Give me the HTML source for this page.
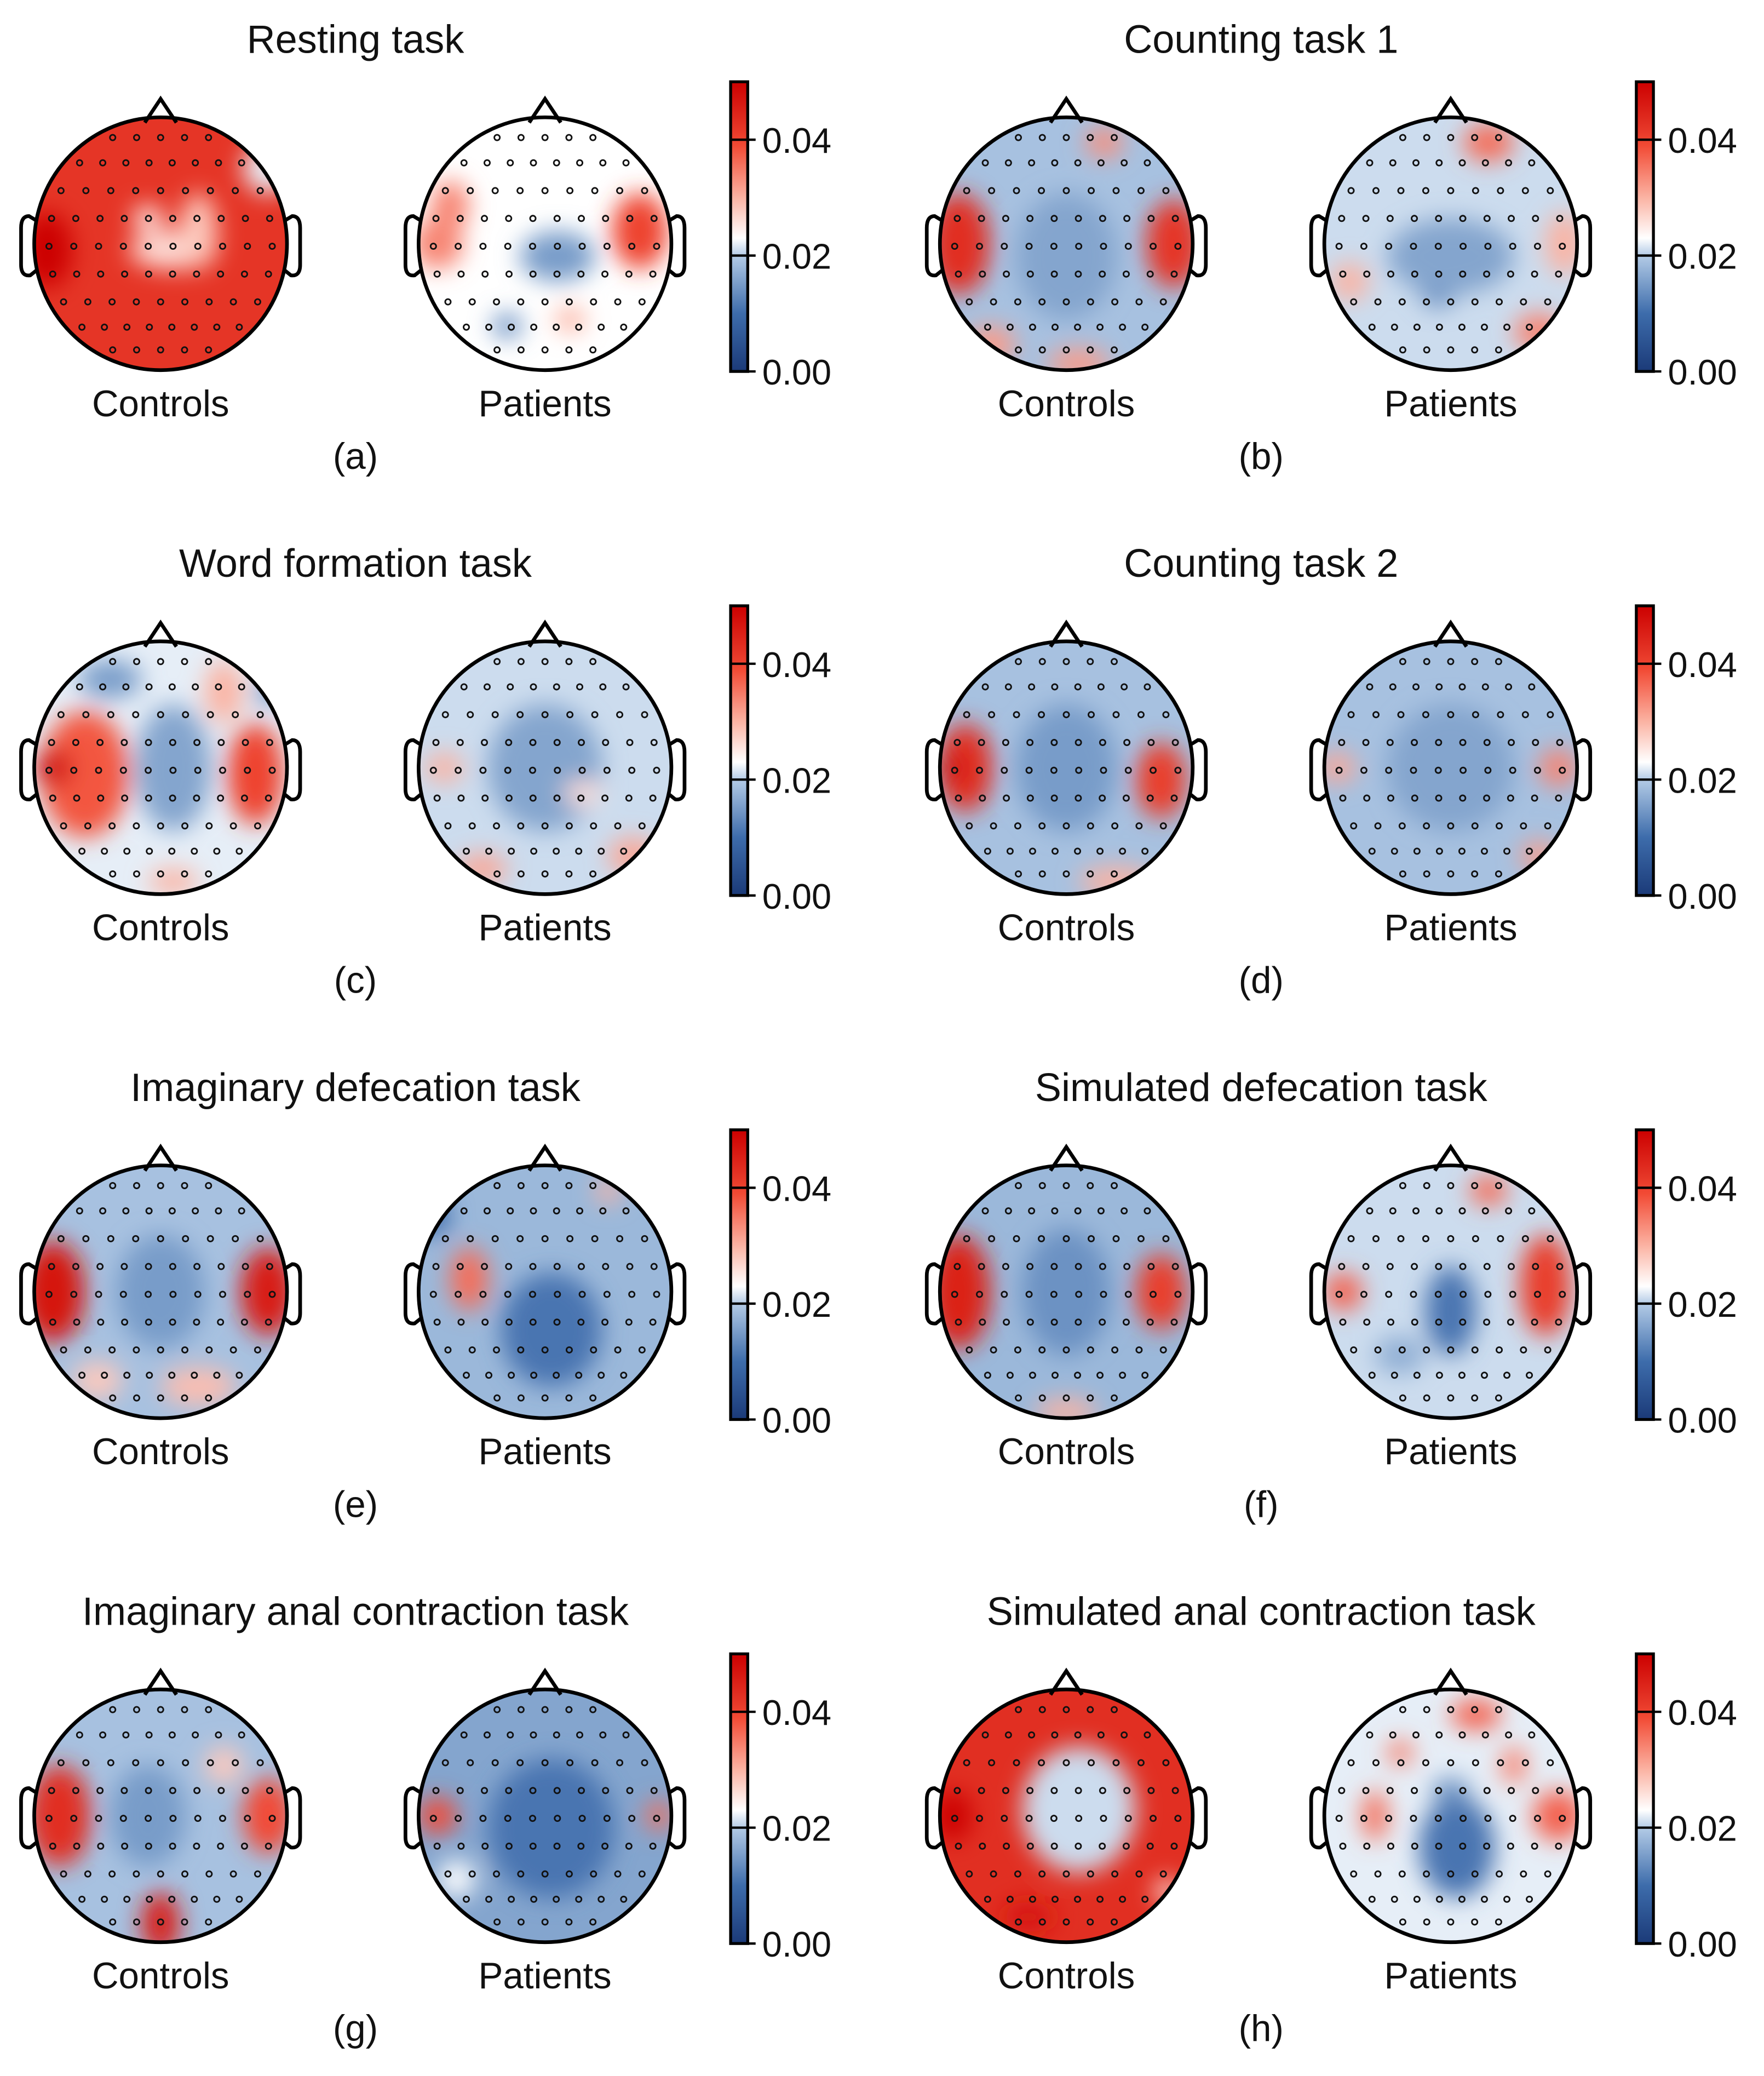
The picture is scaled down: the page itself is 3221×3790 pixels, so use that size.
<!DOCTYPE html>
<html><head><meta charset="utf-8"><style>
html,body{margin:0;padding:0;background:#fff;}
svg{display:block;font-family:"Liberation Sans",sans-serif;}
</style></head><body>
<svg id="fig" xmlns="http://www.w3.org/2000/svg" width="3221" height="3790" viewBox="0 0 1340 1576.5">
<defs>
<filter id="blur" x="-50%" y="-50%" width="200%" height="200%"><feGaussianBlur stdDeviation="9"/></filter>
</defs>
</svg>
<script>
const panelTitles=["Resting task","Counting task 1","Word formation task","Counting task 2","Imaginary defecation task","Simulated defecation task","Imaginary anal contraction task","Simulated anal contraction task"];
const panelLetters=["(a)","(b)","(c)","(d)","(e)","(f)","(g)","(h)"];
const groupLabels=["Controls","Patients"];
const cbTicks=[0.00,0.02,0.04];
const vMin=0, vMax=0.05;
const baseValues=[[0.042,0.023],[0.019,0.021],[0.022,0.021],[0.019,0.019],[0.019,0.018],[0.018,0.021],[0.019,0.016],[0.043,0.022]];
const blobs=[
 [[[-0.9,0.05,0.2,0.3,0.05],[0.1,0.05,0.35,0.15,0.026],[-0.1,-0.2,0.12,0.1,0.024],[0.85,-0.6,0.2,0.2,0.022],[0.3,-0.1,0.15,0.3,0.028]],
  [[-0.75,-0.3,0.15,0.2,0.034],[-0.85,0,0.2,0.2,0.034],[0.75,-0.1,0.22,0.3,0.04],[0.1,0.1,0.3,0.2,0.015],[-0.3,0.65,0.12,0.1,0.014],[0.2,0.6,0.12,0.1,0.03]]],
 [[[-0.85,0,0.25,0.4,0.043],[0.85,0,0.22,0.35,0.042],[0.3,-0.8,0.15,0.12,0.033],[-0.6,0.8,0.2,0.15,0.032],[0.1,0.95,0.25,0.12,0.032],[0,0.1,0.4,0.5,0.016]],
  [[0.3,-0.8,0.2,0.15,0.036],[-0.8,0.3,0.15,0.15,0.03],[0.9,0,0.15,0.25,0.03],[-0.1,0,0.15,0.12,0.013],[-0.1,0.35,0.15,0.15,0.013],[0.7,0.7,0.2,0.15,0.034],[0,0.1,0.5,0.3,0.016]]],
 [[[-0.6,0.05,0.35,0.5,0.038],[-0.85,0,0.15,0.15,0.048],[0.75,0.05,0.22,0.4,0.04],[0.5,-0.6,0.15,0.25,0.03],[0.1,0.9,0.2,0.1,0.03],[-0.4,-0.7,0.25,0.15,0.015],[0.85,-0.6,0.1,0.1,0.013],[0.1,0,0.3,0.5,0.016]],
  [[-0.8,0,0.15,0.12,0.03],[-0.5,0.8,0.2,0.12,0.031],[0.7,0.7,0.2,0.15,0.031],[0,0,0.45,0.5,0.016],[0.3,0.2,0.15,0.1,0.026]]],
 [[[-0.8,0,0.22,0.35,0.043],[-0.9,0,0.1,0.1,0.05],[0.75,0.1,0.2,0.3,0.041],[0.4,0.9,0.3,0.12,0.03],[0,0,0.4,0.5,0.015]],
  [[-0.9,0,0.15,0.12,0.031],[0.85,0,0.15,0.15,0.034],[0,0.1,0.15,0.2,0.012],[0.7,0.7,0.15,0.12,0.032],[0,0,0.5,0.5,0.016]]],
 [[[-0.85,0,0.25,0.4,0.047],[0.85,0,0.22,0.35,0.046],[0.3,0.75,0.3,0.15,0.029],[-0.5,0.7,0.2,0.15,0.028],[0,0,0.35,0.45,0.015]],
  [[-0.6,-0.1,0.15,0.25,0.036],[0.05,0.3,0.4,0.45,0.011],[-0.9,-0.6,0.15,0.15,0.01],[0.5,-0.8,0.1,0.1,0.03]]],
 [[[-0.85,0,0.25,0.45,0.045],[0.75,0,0.2,0.3,0.041],[0,0.95,0.25,0.1,0.03],[0,0,0.35,0.5,0.014]],
  [[0.75,-0.05,0.2,0.4,0.041],[-0.85,0,0.15,0.15,0.037],[0.3,-0.8,0.15,0.12,0.036],[0,0.15,0.2,0.35,0.011],[-0.4,0.5,0.2,0.15,0.017]]],
 [[[-0.8,0,0.25,0.4,0.043],[0.85,0,0.2,0.3,0.039],[0,0.85,0.15,0.25,0.046],[0.5,-0.4,0.15,0.15,0.028],[-0.1,0,0.3,0.4,0.015]],
  [[-0.85,0,0.15,0.15,0.039],[0.9,0,0.1,0.12,0.036],[0.05,0.1,0.5,0.55,0.011],[-0.7,0.5,0.15,0.15,0.023]]],
 [[[0.1,-0.05,0.45,0.5,0.021],[-0.9,0,0.15,0.2,0.05],[0.8,0.6,0.1,0.1,0.025],[-0.3,0.8,0.2,0.12,0.047]],
  [[0.05,0.25,0.3,0.4,0.011],[0.2,-0.8,0.2,0.12,0.037],[0.85,0,0.2,0.2,0.037],[-0.6,0,0.1,0.2,0.036],[-0.4,-0.5,0.1,0.1,0.035],[0.5,-0.4,0.1,0.15,0.034],[0,-0.2,0.15,0.1,0.014]]]
];
const electrodeRows=[-0.84,-0.64,-0.42,-0.2,0.02,0.24,0.46,0.66,0.84];

const stops=[[0,"#1b3a78"],[0.2,"#3d6cab"],[0.4,"#b3cbe6"],[0.46,"#ffffff"],[0.6,"#fbb3a3"],[0.78,"#f24a34"],[0.85,"#e33224"],[1,"#cc0000"]];
function hex(h){return [1,3,5].map(i=>parseInt(h.substr(i,2),16));}
function cmap(v){let t=Math.max(0,Math.min(1,(v-vMin)/(vMax-vMin)));
 for(let i=0;i<stops.length-1;i++){if(t<=stops[i+1][0]){const a=hex(stops[i][1]),b=hex(stops[i+1][1]);const f=(t-stops[i][0])/(stops[i+1][0]-stops[i][0]);
 return "rgb("+a.map((x,k)=>Math.round(x+(b[k]-x)*f)).join(",")+")";}}return stops[stops.length-1][1];}
const NS="http://www.w3.org/2000/svg";
const svg=document.getElementById("fig");
const defs=svg.querySelector("defs");
function el(t,a,p){const e=document.createElementNS(NS,t);for(const k in a)e.setAttribute(k,a[k]);(p||svg).appendChild(e);return e;}
function txt(x,y,s,size,anchor,p){const t=el("text",{x:x,y:y,"font-size":size,"text-anchor":anchor||"middle",fill:"#111"},p);t.textContent=s;return t;}
const lg=el("linearGradient",{id:"cbgrad",x1:"0",y1:"1",x2:"0",y2:"0"},defs);
stops.forEach(s=>el("stop",{offset:s[0],"stop-color":s[1]},lg));
const R=96, rowGap=398;
let cid=0;
function head(cx,cy,base,bl,g,name){
 cid++;
 const cp=el("clipPath",{id:"c"+cid},defs);
 el("circle",{cx:cx,cy:cy,r:R},cp);
 const m=el("g",{"clip-path":"url(#c"+cid+")"},g);
 
 
 el("rect",{x:cx-R-30,y:cy-R-30,width:2*R+60,height:2*R+60,fill:cmap(base)},m);
 const bg=el("g",{filter:"url(#blur)"},m);
 bl.forEach(b=>{el("ellipse",{cx:cx+b[0]*R,cy:cy+b[1]*R,rx:b[2]*R,ry:b[3]*R,fill:cmap(b[4])},bg);});
 electrodeRows.forEach(ry=>{const w=Math.sqrt(Math.max(0,0.93*0.93-ry*ry));const n=Math.max(1,Math.round(2*w/0.2));
  for(let i=0;i<=n;i++){const rx=-w+2*w*i/n;const d=el("circle",{cx:cx+rx*0.95*R,cy:cy+ry*R,r:2.1,fill:"none",stroke:"#111","stroke-width":1.2},g);
  
  }});
 const o=el("g",{fill:"none",stroke:"#000","stroke-width":2.8},g);
 
 
 el("circle",{cx:cx,cy:cy,r:R},o);
 el("path",{d:`M${cx-12} ${cy-R+4} L${cx} ${cy-R-14} L${cx+12} ${cy-R+4}`},o);
 el("path",{d:`M${cx-R+1} ${cy-18} L${cx-R-4} ${cy-21} Q${cx-R-10} ${cy-21} ${cx-R-10} ${cy-12} L${cx-R-10} ${cy+16} Q${cx-R-10} ${cy+25} ${cx-R-3} ${cy+24} L${cx-R+2} ${cy+20}`},o);
 el("path",{d:`M${cx+R-1} ${cy-18} L${cx+R+4} ${cy-21} Q${cx+R+10} ${cy-21} ${cx+R+10} ${cy-12} L${cx+R+10} ${cy+16} Q${cx+R+10} ${cy+25} ${cx+R+3} ${cy+24} L${cx+R-2} ${cy+20}`},o);
}
for(let p=0;p<8;p++){
 const col=p%2,row=Math.floor(p/2);
 const ox=col*688, oy=row*rowGap;
 const g=el("g",{});
 
 
 const t=txt(270+ox,40+oy,panelTitles[p],30,"middle",g);
 
 
 for(let h=0;h<2;h++){
  const cx=122+h*292+ox, cy=185+oy;
  head(cx,cy,baseValues[p][h],blobs[p][h],g,groupLabels[h].toLowerCase());
  const l=txt(cx,316+oy,groupLabels[h],28,"middle",g);
  
  
 }
 const lt=txt(270+ox,356+oy,panelLetters[p],28,"middle",g);
 
 
 const cbx=555+ox, top=62+oy, bot=282+oy;
 const cb=el("g",{},g);
 
 
 el("rect",{x:cbx,y:top,width:13,height:bot-top,fill:"url(#cbgrad)",stroke:"#000","stroke-width":2.2},cb);
 const ys=v=>bot-(v-vMin)/(vMax-vMin)*(bot-top);
 cbTicks.forEach(v=>{const y=ys(v);
  el("line",{x1:cbx,x2:cbx+19,y1:y,y2:y,stroke:"#000","stroke-width":1.8},cb);
  const tl=txt(cbx+24,y+10,v.toFixed(2),27,"start",cb);
  
  });
}
</script>
</body></html>
